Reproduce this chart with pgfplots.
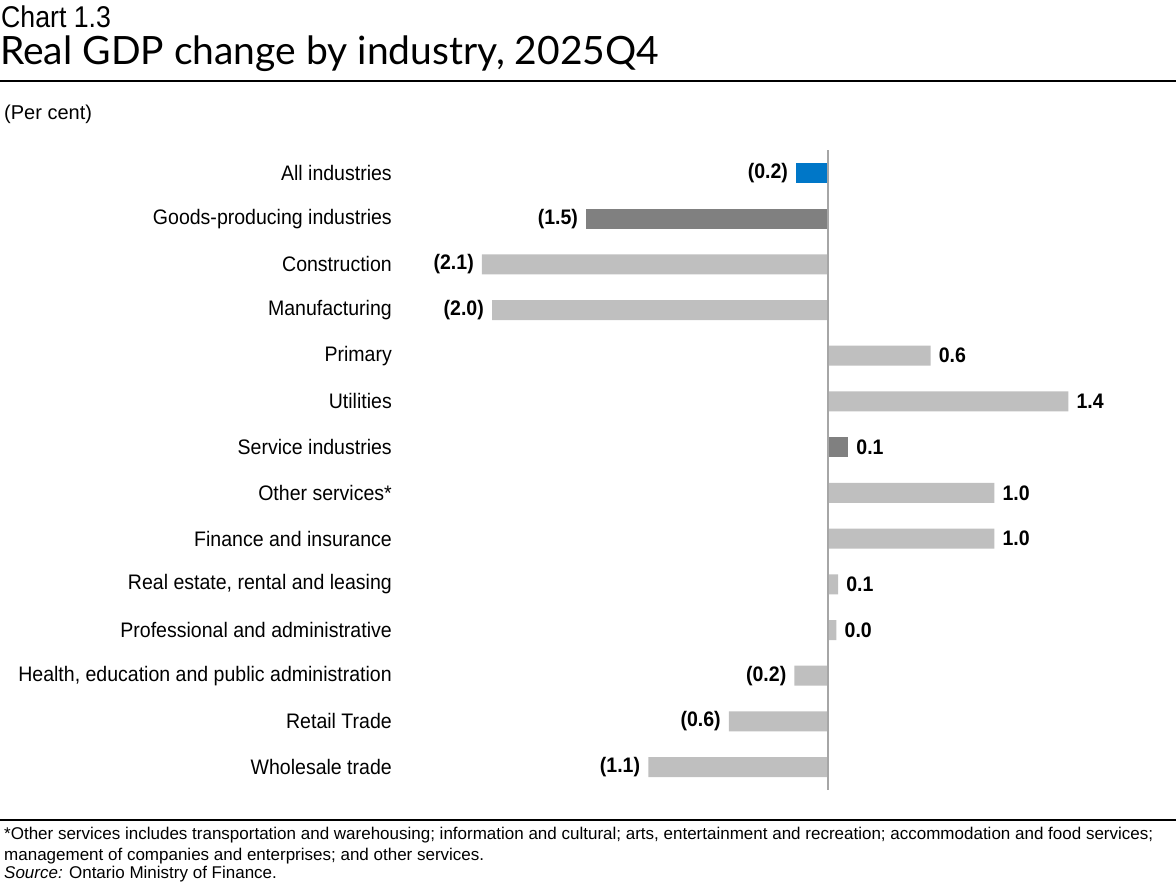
\documentclass[border=0pt]{standalone}
\usepackage{fontspec}
\setmainfont{Liberation Sans}
\newfontfamily\narrowfont{Liberation Sans}[FakeStretch=0.93]
\newfontfamily\chartfont{Liberation Sans}[FakeStretch=0.89]
\newfontfamily\titlefont{Lato}
\usepackage{pgfplots}
\pgfplotsset{compat=1.18}
\definecolor{barblue}{HTML}{0077C8}
\definecolor{bardark}{HTML}{808080}
\definecolor{barlight}{HTML}{BFBFBF}
\definecolor{axisgray}{HTML}{A6A6A6}

\pgfplotsset{
  neg/.style={every node near coord/.append style={anchor=east}},
  pos/.style={every node near coord/.append style={anchor=west}},
}

\begin{document}
\begin{tikzpicture}
\useasboundingbox (0pt,0pt) rectangle (1176pt,-888pt);
% heading
\node[anchor=base west, inner sep=0] at (1pt,-28pt) {\chartfont\fontsize{30}{34}\selectfont Chart 1.3};
\node[anchor=base west, inner sep=0] at (0pt,-65pt) {\titlefont\fontsize{39}{46}\selectfont Real GDP change by industry, 2025Q4};
\draw[line width=1.2pt] (0pt,-81pt) -- (1176pt,-81pt);
\node[anchor=base west, inner sep=0] at (4pt,-120pt) {\fontsize{20}{24}\selectfont (Per cent)};

\begin{axis}[
    at={(400pt,-150pt)}, anchor=north west,
    width=776pt, height=640pt, scale only axis,
    xmin=-2.548, xmax=2.071,
    ymin=-0.5, ymax=13.5,
    axis line style={draw=none},
    major tick length=0pt,
    xtick=\empty,
    ytick={0,...,13},
    yticklabels={Wholesale trade, Retail Trade, {Health, education and public administration}, Professional and administrative, {Real estate, rental and leasing}, Finance and insurance, Other services*, Service industries, Utilities, Primary, Manufacturing, Construction, Goods-producing industries, All industries},
    yticklabel style={font=\narrowfont\fontsize{21}{24}\selectfont, inner sep=0pt, xshift=-8pt},
    xbar, bar width=20pt, bar shift=0pt,
    clip=false,
    point meta=explicit symbolic,
    nodes near coords,
    every node near coord/.append style={font=\narrowfont\bfseries\fontsize{21}{24}\selectfont, inner xsep=8pt, inner ysep=0pt, text=black},
]
% all industries
\addplot[draw=none, fill=barblue, neg] table[meta=lab] {
x y lab
-0.19 13 (0.2)
};
% aggregates
\addplot[draw=none, fill=bardark, neg] table[meta=lab] {
x y lab
-1.44 12 (1.5)
};
\addplot[draw=none, fill=bardark, pos] table[meta=lab] {
x y lab
0.12 7 0.1
};
% components, negative
\addplot[draw=none, fill=barlight, neg] table[meta=lab] {
x y lab
-2.06 11 (2.1)
-2.00 10 (2.0)
-0.20 2 (0.2)
-0.59 1 (0.6)
-1.07 0 (1.1)
};
% components, positive
\addplot[draw=none, fill=barlight, pos] table[meta=lab] {
x y lab
0.61 9 0.6
1.43 8 1.4
0.99 6 1.0
0.99 5 1.0
0.06 4 0.1
0.05 3 0.0
};
\draw[color=axisgray, line width=1.5pt] (axis cs:0,-0.5) -- (axis cs:0,13.5);
\end{axis}

% footnote
\draw[line width=1.2pt] (0pt,-820pt) -- (1176pt,-820pt);
\node[anchor=base west, inner sep=0] at (4pt,-839pt) {\fontsize{17}{20}\selectfont *Other services includes transportation and warehousing; information and cultural; arts, entertainment and recreation; accommodation and food services;};
\node[anchor=base west, inner sep=0] at (4pt,-860pt) {\fontsize{17}{20}\selectfont management of companies and enterprises; and other services.};
\node[anchor=base west, inner sep=0] at (4pt,-878pt) {\fontsize{17}{20}\selectfont \textit{Source:} Ontario Ministry of Finance.};
\end{tikzpicture}
\end{document}
